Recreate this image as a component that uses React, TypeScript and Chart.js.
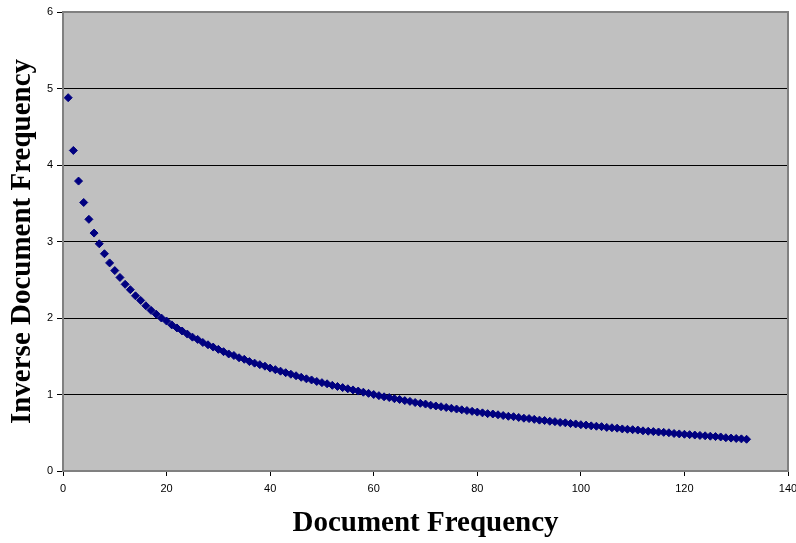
import React, { useEffect, useRef } from "react";
import { Chart, registerables } from "chart.js";

Chart.register(...registerables);

const documentFrequency: number[] = [
  1, 2, 3, 4, 5, 6, 7, 8, 9, 10, 11, 12, 13, 14, 15, 16, 17, 18, 19, 20,
  21, 22, 23, 24, 25, 26, 27, 28, 29, 30, 31, 32, 33, 34, 35, 36, 37, 38, 39, 40,
  41, 42, 43, 44, 45, 46, 47, 48, 49, 50, 51, 52, 53, 54, 55, 56, 57, 58, 59, 60,
  61, 62, 63, 64, 65, 66, 67, 68, 69, 70, 71, 72, 73, 74, 75, 76, 77, 78, 79, 80,
  81, 82, 83, 84, 85, 86, 87, 88, 89, 90, 91, 92, 93, 94, 95, 96, 97, 98, 99, 100,
  101, 102, 103, 104, 105, 106, 107, 108, 109, 110, 111, 112, 113, 114, 115, 116, 117, 118, 119, 120,
  121, 122, 123, 124, 125, 126, 127, 128, 129, 130, 131, 132,
];

const inverseDocumentFrequency: number[] = [
  4.88, 4.19, 3.79, 3.51, 3.29, 3.11, 2.97, 2.84, 2.72, 2.62,
  2.53, 2.44, 2.37, 2.29, 2.23, 2.16, 2.10, 2.05, 2.00, 1.96,
  1.91, 1.87, 1.83, 1.79, 1.75, 1.72, 1.68, 1.65, 1.62, 1.59,
  1.56, 1.53, 1.51, 1.48, 1.46, 1.43, 1.41, 1.39, 1.37, 1.345,
  1.325, 1.305, 1.285, 1.265, 1.245, 1.225, 1.205, 1.19, 1.17, 1.155,
  1.14, 1.12, 1.105, 1.09, 1.075, 1.06, 1.045, 1.03, 1.015, 1.0,
  0.985, 0.97, 0.96, 0.945, 0.935, 0.92, 0.91, 0.895, 0.885, 0.875,
  0.86, 0.85, 0.84, 0.83, 0.82, 0.81, 0.8, 0.79, 0.78, 0.77,
  0.76, 0.75, 0.745, 0.735, 0.725, 0.715, 0.71, 0.7, 0.69, 0.685,
  0.675, 0.665, 0.66, 0.65, 0.645, 0.635, 0.63, 0.62, 0.615, 0.605,
  0.6, 0.59, 0.585, 0.58, 0.57, 0.565, 0.56, 0.55, 0.545, 0.54,
  0.535, 0.525, 0.52, 0.515, 0.51, 0.505, 0.5, 0.49, 0.485, 0.48,
  0.475, 0.47, 0.465, 0.46, 0.455, 0.45, 0.445, 0.435, 0.43, 0.425,
  0.42, 0.415,
];

const xAxisTitle = "Document Frequency";
const yAxisTitle = "Inverse Document Frequency";

const plotFrame = {
  id: "plotFrame",
  beforeDraw(chart: any) {
    const { ctx, chartArea } = chart;
    ctx.save();
    ctx.fillStyle = "#C0C0C0";
    ctx.fillRect(chartArea.left, chartArea.top, chartArea.right - chartArea.left, chartArea.bottom - chartArea.top);
    ctx.restore();
  },
  afterDatasetsDraw(chart: any) {
    const { ctx, chartArea } = chart;
    ctx.save();
    ctx.strokeStyle = "#808080";
    ctx.lineWidth = 2;
    ctx.strokeRect(chartArea.left, chartArea.top, chartArea.right - chartArea.left, chartArea.bottom - chartArea.top);
    ctx.restore();
  },
};

export default function App() {
  const canvasRef = useRef<HTMLCanvasElement | null>(null);

  useEffect(() => {
    document.body.style.margin = "0";
    const canvas = canvasRef.current;
    if (!canvas) return;
    const points = documentFrequency.map((x, i) => ({ x, y: inverseDocumentFrequency[i] }));
    const chart = new Chart(canvas, {
      type: "scatter",
      data: {
        datasets: [
          {
            data: points,
            pointStyle: "rectRot",
            pointRadius: 4,
            backgroundColor: "#000080",
            borderColor: "#000080",
            borderWidth: 1,
          },
        ],
      },
      plugins: [plotFrame],
      options: {
        animation: false,
        responsive: false,
        maintainAspectRatio: false,
        layout: { padding: { left: 0, right: 8, top: 12, bottom: 0 } },
        plugins: { legend: { display: false }, tooltip: { enabled: false } },
        scales: {
          x: {
            type: "linear",
            min: 0,
            max: 140,
            afterFit: (s: any) => {
              s.height = 72;
              s.paddingLeft = 0;
              s.paddingRight = 0;
            },
            ticks: {
              stepSize: 20,
              color: "#000",
              padding: 6,
              maxRotation: 0,
              font: { family: "'Liberation Sans', Arial, sans-serif", size: 11 },
            },
            grid: {
              drawOnChartArea: false,
              drawTicks: true,
              tickLength: 5,
              tickColor: "#000",
            },
            border: { display: true, color: "#808080", width: 2 },
            title: {
              display: true,
              text: xAxisTitle,
              color: "#000",
              padding: { top: 0, bottom: 2 },
              font: { family: "'Liberation Serif', 'Times New Roman', serif", size: 29, weight: "bold" },
            },
          },
          y: {
            type: "linear",
            min: 0,
            max: 6,
            afterFit: (s: any) => {
              s.width = 63;
              s.paddingTop = 0;
              s.paddingBottom = 0;
            },
            ticks: {
              stepSize: 1,
              color: "#000",
              padding: 4,
              font: { family: "'Liberation Sans', Arial, sans-serif", size: 11 },
            },
            grid: {
              color: "#000",
              lineWidth: 1,
              drawTicks: true,
              tickLength: 6,
              tickColor: "#000",
            },
            border: { display: true, color: "#808080", width: 2 },
            title: {
              display: true,
              text: yAxisTitle,
              color: "#000",
              padding: { top: 5, bottom: 0 },
              font: { family: "'Liberation Serif', 'Times New Roman', serif", size: 29, weight: "bold" },
            },
          },
        },
      },
    });
    return () => chart.destroy();
  }, []);

  return (
    <div style={{ position: "absolute", left: 0, top: 0, width: 796, height: 543 }}>
      <canvas ref={canvasRef} width={796} height={543} style={{ width: 796, height: 543 }} />
    </div>
  );
}
